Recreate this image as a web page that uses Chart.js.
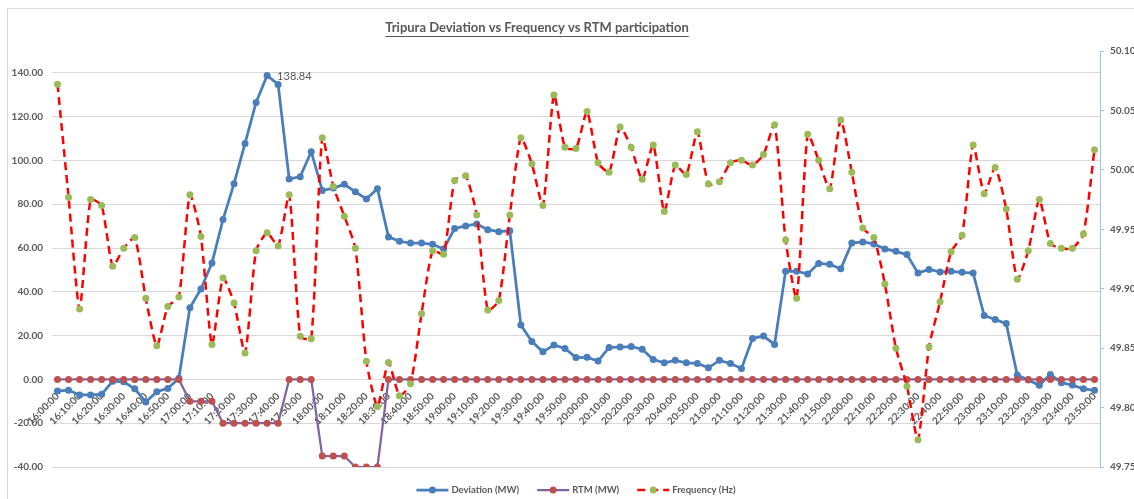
<!DOCTYPE html>
<html>
<head>
<meta charset="utf-8">
<script src="https://cdn.jsdelivr.net/npm/chart.js@4.4.1/dist/chart.umd.min.js"></script>
<style>
  html, body { margin: 0; padding: 0; background: #ffffff; }
  #wrap { width: 1134px; height: 499px; position: relative; }
  canvas { display: block; }
</style>
</head>
<body>
<div id="wrap"><canvas id="c" width="1134" height="499"></canvas></div>
<script>
// ---------------- DATA ----------------
const chartTitle = 'Tripura Deviation vs Frequency vs RTM participation';

const times = [
  '16:00:00','16:05:00','16:10:00','16:15:00','16:20:00','16:25:00','16:30:00','16:35:00','16:40:00','16:45:00','16:50:00','16:55:00',
  '17:00:00','17:05:00','17:10:00','17:15:00','17:20:00','17:25:00','17:30:00','17:35:00','17:40:00','17:45:00','17:50:00','17:55:00',
  '18:00:00','18:05:00','18:10:00','18:15:00','18:20:00','18:25:00','18:30:00','18:35:00','18:40:00','18:45:00','18:50:00','18:55:00',
  '19:00:00','19:05:00','19:10:00','19:15:00','19:20:00','19:25:00','19:30:00','19:35:00','19:40:00','19:45:00','19:50:00','19:55:00',
  '20:00:00','20:05:00','20:10:00','20:15:00','20:20:00','20:25:00','20:30:00','20:35:00','20:40:00','20:45:00','20:50:00','20:55:00',
  '21:00:00','21:05:00','21:10:00','21:15:00','21:20:00','21:25:00','21:30:00','21:35:00','21:40:00','21:45:00','21:50:00','21:55:00',
  '22:00:00','22:05:00','22:10:00','22:15:00','22:20:00','22:25:00','22:30:00','22:35:00','22:40:00','22:45:00','22:50:00','22:55:00',
  '23:00:00','23:05:00','23:10:00','23:15:00','23:20:00','23:25:00','23:30:00','23:35:00','23:40:00','23:45:00','23:50:00'
];

const deviationMW = [
  -5.3, -4.9, -7.1, -7.1, -6.8, -0.8, -1.1, -4.3, -10.3, -5.6, -4.1, 0.5,
  32.7, 41.3, 53.2, 73.0, 89.4, 107.8, 126.5, 138.84, 134.7, 91.5, 92.6, 104.0,
  86.3, 87.4, 89.1, 85.7, 82.4, 87.1, 65.1, 63.1, 62.3, 62.3, 61.7, 59.6,
  68.9, 70.1, 71.0, 68.4, 67.5, 67.9, 24.9, 17.3, 12.6, 15.7, 14.1, 10.0,
  10.1, 8.4, 14.6, 14.8, 15.0, 13.8, 9.1, 7.6, 8.7, 7.6, 7.3, 5.3,
  8.7, 7.3, 5.0, 18.7, 19.8, 16.0, 49.4, 49.4, 48.2, 53.0, 52.6, 50.5,
  62.3, 62.8, 61.9, 59.6, 58.5, 57.0, 48.6, 50.2, 49.1, 49.4, 48.9, 48.6,
  29.2, 27.4, 25.5, 2.0, -0.3, -2.7, 2.3, -1.5, -2.6, -4.3, -5.0
];

const rtmMW = [
  0, 0, 0, 0, 0, 0, 0, 0, 0, 0, 0, 0,
  -10, -10, -10, -20, -20, -20, -20, -20, -20, 0, 0, 0,
  -35, -35, -35, -40, -40, -40, 0, 0, 0, 0, 0, 0,
  0, 0, 0, 0, 0, 0, 0, 0, 0, 0, 0, 0,
  0, 0, 0, 0, 0, 0, 0, 0, 0, 0, 0, 0,
  0, 0, 0, 0, 0, 0, 0, 0, 0, 0, 0, 0,
  0, 0, 0, 0, 0, 0, 0, 0, 0, 0, 0, 0,
  0, 0, 0, 0, 0, 0, 0, 0, 0, 0, 0
];

const frequencyHz = [
  50.072, 49.977, 49.883, 49.975, 49.970, 49.919, 49.934, 49.943, 49.892, 49.852, 49.885, 49.893,
  49.979, 49.944, 49.853, 49.909, 49.888, 49.846, 49.932, 49.947, 49.936, 49.979, 49.860, 49.858,
  50.027, 49.986, 49.961, 49.934, 49.839, 49.801, 49.838, 49.810, 49.820, 49.879, 49.932, 49.929,
  49.991, 49.995, 49.962, 49.882, 49.890, 49.962, 50.027, 50.005, 49.970, 50.063, 50.019, 50.018,
  50.049, 50.006, 49.998, 50.036, 50.019, 49.992, 50.021, 49.965, 50.004, 49.996, 50.032, 49.988,
  49.990, 50.006, 50.008, 50.004, 50.013, 50.038, 49.941, 49.892, 50.030, 50.008, 49.984, 50.042,
  49.998, 49.951, 49.943, 49.904, 49.850, 49.818, 49.773, 49.851, 49.889, 49.931, 49.945, 50.021,
  49.980, 50.002, 49.967, 49.908, 49.932, 49.975, 49.938, 49.934, 49.934, 49.946, 50.017
];

const leftAxis = { min: -40, max: 150, step: 20 };
const rightAxis = { min: 49.75, max: 50.10, step: 0.05 };
const labelledPointIndex = 19; // peak deviation shown with its value

// ---------------- STYLE ----------------
const FONT = 'Lato, "Open Sans", "Liberation Sans", sans-serif';
const GREY = '#595959';
const BLUE = '#4a7ebb';
const PURPLE = '#8064a2';
const RTM_DOT = '#c0504d';
const RED = '#ff0000';
const GREEN = '#9bbb59';

const frame = {
  id: 'frame',
  beforeDraw(chart) {
    const c = chart.ctx;
    c.save();
    c.fillStyle = '#ffffff';
    c.fillRect(0, 0, chart.width, chart.height);
    c.strokeStyle = '#d9d9d9';
    c.lineWidth = 1;
    c.beginPath();
    c.moveTo(7.5, chart.height);
    c.lineTo(7.5, 8.5);
    c.lineTo(chart.width, 8.5);
    c.stroke();
    c.restore();
  },
  afterDraw(chart) {
    const c = chart.ctx;
    c.save();
    // title
    c.font = 'bold 13px ' + FONT;
    c.fillStyle = GREY;
    c.textAlign = 'center';
    c.textBaseline = 'middle';
    const tx = 537, ty = 28;
    c.fillText(chartTitle, tx, ty);
    const w = c.measureText(chartTitle).width;
    c.strokeStyle = GREY;
    c.lineWidth = 1;
    c.beginPath();
    c.moveTo(tx - w / 2, ty + 8.5);
    c.lineTo(tx + w / 2, ty + 8.5);
    c.stroke();

    // legend
    const ds = chart.data.datasets;
    c.font = 'bold 9.5px ' + FONT;
    c.textAlign = 'left';
    const iconW = 32, gapIconText = 3, gapItems = 18;
    const items = ds.map(d => ({ d, tw: c.measureText(d.label).width }));
    const total = items.reduce((s, it) => s + iconW + gapIconText + it.tw, 0) + gapItems * (items.length - 1);
    let x = 576 - total / 2;
    const ly = 490;
    items.forEach(({ d, tw }) => {
      c.save();
      c.strokeStyle = d.borderColor;
      c.lineWidth = d.borderWidth;
      c.setLineDash(d.borderDash || []);
      c.beginPath();
      c.moveTo(x, ly);
      c.lineTo(x + iconW, ly);
      c.stroke();
      c.setLineDash([]);
      c.fillStyle = d.pointBackgroundColor;
      c.beginPath();
      c.arc(x + iconW / 2, ly, 3.5, 0, Math.PI * 2);
      c.fill();
      c.restore();
      c.fillStyle = GREY;
      c.fillText(d.label, x + iconW + gapIconText, ly);
      x += iconW + gapIconText + tw + gapItems;
    });

    // value label on peak
    const meta = chart.getDatasetMeta(0);
    const el = meta.data[labelledPointIndex];
    if (el) {
      c.font = '11px ' + FONT;
      c.fillStyle = GREY;
      c.textAlign = 'left';
      c.textBaseline = 'middle';
      c.fillText(deviationMW[labelledPointIndex].toFixed(2), el.x + 10, el.y + 1);
    }
    c.restore();
  }
};

new Chart(document.getElementById('c'), {
  type: 'line',
  data: {
    labels: times,
    datasets: [
      {
        label: 'Deviation (MW)',
        data: deviationMW,
        yAxisID: 'y',
        borderColor: BLUE,
        backgroundColor: BLUE,
        pointBackgroundColor: BLUE,
        pointBorderColor: BLUE,
        borderWidth: 2.75,
        pointRadius: 3.5,
        pointBorderWidth: 0,
        tension: 0,
        order: 3
      },
      {
        label: 'RTM (MW)',
        data: rtmMW,
        yAxisID: 'y',
        borderColor: PURPLE,
        backgroundColor: RTM_DOT,
        pointBackgroundColor: RTM_DOT,
        pointBorderColor: RTM_DOT,
        borderWidth: 2.25,
        pointRadius: 3.5,
        pointBorderWidth: 0,
        tension: 0,
        order: 2
      },
      {
        label: 'Frequency (Hz)',
        data: frequencyHz,
        yAxisID: 'y1',
        borderColor: RED,
        backgroundColor: GREEN,
        pointBackgroundColor: GREEN,
        pointBorderColor: GREEN,
        borderWidth: 2.5,
        borderDash: [8, 5],
        pointRadius: 3.5,
        pointBorderWidth: 0,
        tension: 0.2,
        order: 1
      }
    ]
  },
  options: {
    responsive: false,
    animation: false,
    devicePixelRatio: 1,
    layout: { padding: { left: 0, right: 0, top: 51, bottom: 32 } },
    plugins: {
      legend: { display: false },
      title: { display: false },
      tooltip: { enabled: false }
    },
    scales: {
      x: {
        type: 'category',
        position: { y: 0 },
        offset: true,
        grid: { display: false },
        border: { display: false },
        ticks: {
          autoSkip: false,
          maxRotation: 45,
          minRotation: 45,
          padding: 3,
          color: GREY,
          font: { family: FONT, size: 10, weight: 'bold' },
          callback: (v, i) => (i % 2 === 0 ? times[i] : null)
        }
      },
      y: {
        position: 'left',
        min: leftAxis.min,
        max: leftAxis.max,
        afterFit: s => { s.width = 52; },
        grid: { color: '#d9d9d9', lineWidth: 1, drawTicks: false },
        border: { display: false },
        ticks: {
          stepSize: leftAxis.step,
          includeBounds: false,
          padding: 9,
          color: GREY,
          font: { family: FONT, size: 10, weight: 'bold' },
          callback: v => Number(v).toFixed(2)
        }
      },
      y1: {
        position: 'right',
        min: rightAxis.min,
        max: rightAxis.max,
        afterFit: s => { s.width = 34; },
        grid: { display: true, drawOnChartArea: false, drawTicks: true, tickLength: 4, color: '#9dc3e6' },
        border: { display: true, color: '#9dc3e6', width: 1, dash: [3, 2] },
        ticks: {
          stepSize: rightAxis.step,
          padding: 6,
          color: GREY,
          font: { family: FONT, size: 10, weight: 'bold' },
          callback: v => Number(v).toFixed(2)
        }
      }
    }
  },
  plugins: [frame]
});
</script>
</body>
</html>
